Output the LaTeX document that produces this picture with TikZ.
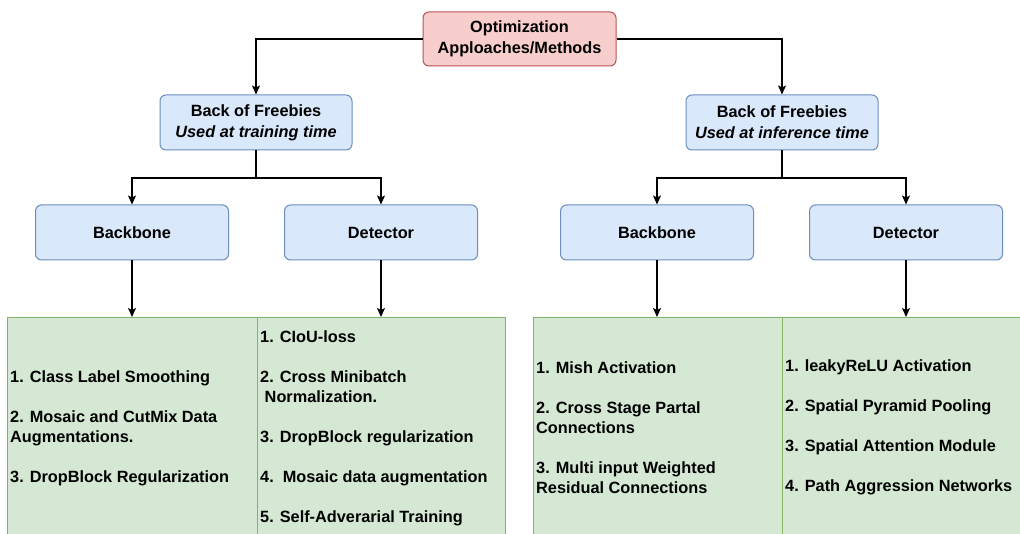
\documentclass[tikz,border=0pt]{standalone}
\usepackage{fontspec}
\setmainfont{Liberation Sans}
\usetikzlibrary{arrows.meta}
\definecolor{pinkfill}{HTML}{F8CECC}
\definecolor{pinkline}{HTML}{B85450}
\definecolor{bluefill}{HTML}{DAE8FC}
\definecolor{blueline}{HTML}{6C8EBF}
\definecolor{greenfill}{HTML}{D5E8D4}
\definecolor{greenline}{HTML}{82B366}
\tikzset{
  topbox/.style={draw=pinkline, fill=pinkfill, line width=1pt, rounded corners=6pt,
    minimum width=193pt, minimum height=54pt, align=center, inner sep=0pt,
    font=\fontsize{16.3}{21}\selectfont\bfseries},
  bofbox/.style={draw=blueline, fill=bluefill, line width=1pt, rounded corners=6pt,
    minimum width=192pt, minimum height=55pt, align=center, inner sep=0pt,
    font=\fontsize{16.3}{21}\selectfont\bfseries},
  partbox/.style={draw=blueline, fill=bluefill, line width=1pt, rounded corners=6pt,
    minimum width=193pt, minimum height=55pt, align=center, inner sep=0pt,
    font=\fontsize{16.3}{21}\selectfont\bfseries},
  listbox/.style={draw=greenline, fill=greenfill, line width=1pt, anchor=north west,
    minimum height=240pt, inner sep=0pt},
  listtext/.style={anchor=west, align=left, inner sep=0pt,
    font=\fontsize{16.3}{20}\selectfont\bfseries},
  arr/.style={draw=black, line width=1.2pt, -{Stealth[length=9pt,width=8pt,inset=2pt]}},
  plain/.style={draw=black, line width=1.2pt},
}
\begin{document}
\begin{tikzpicture}[x=1pt,y=-1pt]
\clip (0,0) rectangle (1020,534);
\fill[white] (0,0) rectangle (1020,534);
% boxes
\node[topbox] (top) at (519.5,39) {Optimization\\Apploaches/Methods};
\node[bofbox] (bofL) at (256,122.5) {Back of Freebies\\\textit{Used at training time}};
\node[bofbox] (bofR) at (782,122.5) {Back of Freebies\\\textit{Used at inference time}};
\node[partbox] (bbL) at (132,232.5) {Backbone};
\node[partbox] (detL) at (381,232.5) {Detector};
\node[partbox] (bbR) at (657,232.5) {Backbone};
\node[partbox] (detR) at (906,232.5) {Detector};
% green list boxes
\node[listbox, minimum width=250pt] (g1) at (7,317) {};
\node[listbox, minimum width=248pt] (g2) at (257,317) {};
\node[listbox, minimum width=249pt] (g3) at (533,317) {};
\node[listbox, minimum width=260pt] (g4) at (782,317) {};
% list texts
\node[listtext] (t1) at (10,428) {1. Class Label Smoothing\\[20pt]2. Mosaic and CutMix Data\\Augmentations.\\[20pt]3. DropBlock Regularization};
\node[listtext] (t2) at (260,428.5) {1. CIoU-loss\\[20pt]2. Cross Minibatch\\\ Normalization.\\[20pt]3. DropBlock regularization\\[20pt]4.\ \ Mosaic data augmentation\\[20pt]5. Self-Adverarial Training};
\node[listtext] (t3) at (536,427.5) {1. Mish Activation\\[20pt]2. Cross Stage Partal\\Connections\\[20pt]3. Multi input Weighted\\Residual Connections};
\node[listtext] (t4) at (785,427.5) {1. leakyReLU Activation\\[20pt]2. Spatial Pyramid Pooling\\[20pt]3. Spatial Attention Module\\[20pt]4. Path Aggression Networks};
% connectors
\coordinate (sL) at (256,178);
\coordinate (sR) at (782,178);
\draw[arr] (top.west) -| (bofL.north);
\draw[arr] (top.east) -| (bofR.north);
\draw[plain] (bofL.south) -- (sL);
\draw[plain] (bofR.south) -- (sR);
\draw[arr] (sL) -| (bbL.north);
\draw[arr] (sL) -| (detL.north);
\draw[arr] (sR) -| (bbR.north);
\draw[arr] (sR) -| (detR.north);
\draw[arr] (bbL.south) -- (bbL.south |- g1.north);
\draw[arr] (detL.south) -- (detL.south |- g2.north);
\draw[arr] (bbR.south) -- (bbR.south |- g3.north);
\draw[arr] (detR.south) -- (detR.south |- g4.north);
\end{tikzpicture}
\end{document}
